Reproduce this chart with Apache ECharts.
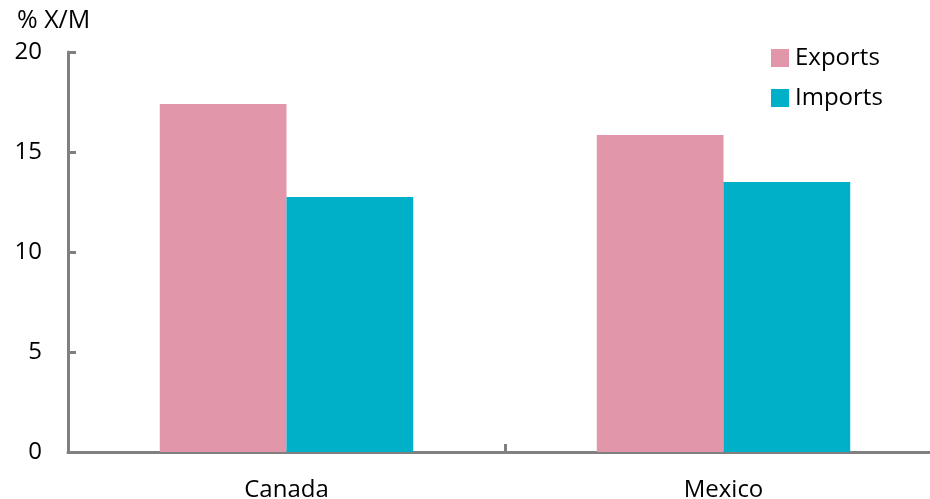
<!DOCTYPE html>
<html><head><meta charset="utf-8">
<script src="https://cdn.jsdelivr.net/npm/echarts@6/dist/echarts.min.js"></script>
<style>html,body{margin:0;padding:0;background:#fff}#c{width:930px;height:499px}</style>
</head><body><div id="c"></div>
<script>
const categories = ['Canada', 'Mexico'];
const exportsData = [17.4, 15.85];
const importsData = [12.75, 13.5];
const yTicks = [0, 5, 10, 15, 20];

const font = '"Open Sans", "Noto Sans", sans-serif';
const chart = echarts.init(document.getElementById('c'));
chart.setOption({
  animation: false,
  title: { text: '% X/M', left: 12, top: 3, textStyle: { fontFamily: font, fontSize: 25, fontWeight: 'normal', color: '#000' } },
  legend: {
    orient: 'vertical', left: 766, top: 41, itemWidth: 18, itemHeight: 18, itemGap: 16,
    icon: 'rect',
    textStyle: { fontFamily: font, fontSize: 24, color: '#000', padding: [0, 0, 0, 1] },
    data: ['Exports', 'Imports']
  },
  grid: { left: 68, width: 874, top: 52, height: 400, containLabel: false, outerBoundsMode: 'none' },
  xAxis: {
    type: 'category', data: categories,
    axisLine: { lineStyle: { color: '#808080', width: 3 } },
    axisTick: { show: true, inside: true, length: 8, lineStyle: { color: '#808080', width: 3 } },
    axisLabel: { fontFamily: font, fontSize: 24, color: '#000', margin: 26 }
  },
  yAxis: {
    type: 'value', min: yTicks[0], max: yTicks[yTicks.length - 1], interval: 5,
    splitLine: { show: false },
    axisLine: { show: true, lineStyle: { color: '#808080', width: 3 } },
    axisTick: { show: true, inside: true, length: 8, lineStyle: { color: '#808080', width: 3 } },
    axisLabel: { fontFamily: font, fontSize: 24, color: '#000', margin: 26 }
  },
  series: [
    { name: 'Exports', type: 'bar', data: exportsData, barGap: '0%', barCategoryGap: '42%', itemStyle: { color: '#E196AA' } },
    { name: 'Imports', type: 'bar', data: importsData, itemStyle: { color: '#00AFC8' } }
  ]
});
</script></body></html>
